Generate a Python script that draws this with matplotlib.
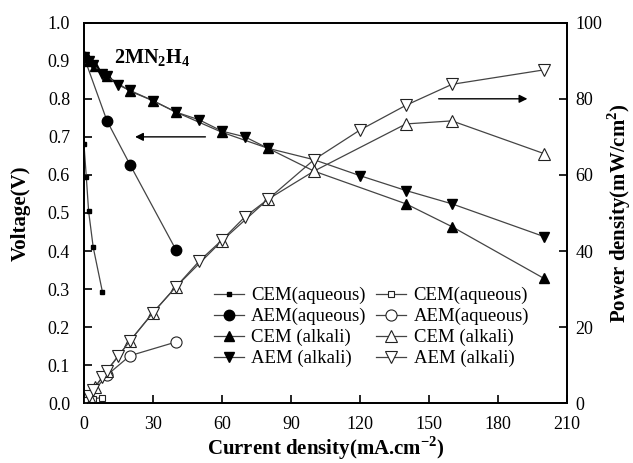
import numpy as np
import matplotlib
matplotlib.use("Agg")
import matplotlib.pyplot as plt

plt.rcParams['font.family'] = ['Liberation Serif', 'DejaVu Serif']
plt.rcParams['mathtext.fontset'] = 'custom'
plt.rcParams['mathtext.rm'] = 'Liberation Serif'
plt.rcParams['mathtext.bf'] = 'Liberation Serif:bold'

# current density (mA/cm2), voltage (V), power density (mW/cm2)
cem_aq_i = [0, 1, 2, 4, 8]
cem_aq_v = [0.68, 0.595, 0.505, 0.41, 0.293]
cem_aq_p = [0, 0.5, 0.9, 1.2, 1.5]

aem_aq_i = [0, 10, 20, 40]
aem_aq_v = [0.91, 0.742, 0.627, 0.403]
aem_aq_p = [0, 7.4, 12.5, 16.1]

cem_al_i = [0, 2, 5, 10, 20, 30, 40, 60, 80, 100, 140, 160, 200]
cem_al_v = [0.91, 0.90, 0.885, 0.86, 0.82, 0.795, 0.765, 0.712, 0.67, 0.61, 0.524, 0.464, 0.328]
cem_al_p = [0, 1.8, 4.4, 8.6, 16.4, 23.8, 30.6, 42.7, 53.6, 61.0, 73.4, 74.2, 65.6]

aem_al_i = [0, 2, 4, 8, 10, 15, 20, 30, 40, 50, 60, 70, 80, 100, 120, 140, 160, 200]
aem_al_v = [0.91, 0.90, 0.89, 0.865, 0.86, 0.836, 0.822, 0.795, 0.765, 0.745, 0.715, 0.70,
            0.67, 0.64, 0.598, 0.559, 0.524, 0.438]
aem_al_p = [0, 1.8, 3.6, 6.9, 8.6, 12.5, 16.4, 23.8, 30.6, 37.3, 42.9, 49.0, 53.6, 64.0,
            71.8, 78.3, 83.8, 87.6]

labels = ["CEM(aqueous)", "AEM(aqueous)", "CEM (alkali)", "AEM (alkali)"]

if __name__ == "__main__":
    fig = plt.figure(figsize=(6.33, 4.63), dpi=100)
    ax = fig.add_axes([0.1327, 0.129, 0.7630, 0.822])
    ax2 = ax.twinx()

    lc = '#444444'
    lw = 0.9
    series = [
        (cem_aq_i, cem_aq_v, cem_aq_p, 's', 3.5),
        (aem_aq_i, aem_aq_v, aem_aq_p, 'o', 7.5),
        (cem_al_i, cem_al_v, cem_al_p, '^', 7.5),
        (aem_al_i, aem_al_v, aem_al_p, 'v', 7.5),
    ]
    filled = []
    empty = []
    for (i, v, p, m, ms), lab in zip(series, labels):
        h1, = ax2.plot(i, np.array(v) * 100, color=lc, lw=lw, marker=m, ms=ms,
                       mfc='black', mec='black', label=lab)
        oms = 5 if m == 's' else 8
        h2, = ax2.plot(i, p, color=lc, lw=lw, marker=m, ms=oms,
                       mfc='white', mec='#222222', mew=0.8, label=lab)
        filled.append(h1)
        empty.append(h2)

    ax.set_xlim(0, 210)
    ax.set_ylim(0, 1.0)
    ax2.set_ylim(0, 100)
    ax.set_xticks(np.arange(0, 211, 30))
    ax.set_yticks(np.arange(0, 1.01, 0.1))
    ax.set_yticklabels(["%.1f" % t for t in np.arange(0, 1.01, 0.1)])
    ax2.set_yticks(np.arange(0, 101, 20))

    ax.tick_params(direction='in', length=6, width=1.2, labelsize=13, top=False)
    ax.tick_params(axis='x', pad=9)
    ax.tick_params(axis='y', pad=10)
    ax2.tick_params(direction='in', length=6, width=1.2, labelsize=13, pad=6)
    for a in (ax, ax2):
        for s in a.spines.values():
            s.set_linewidth(1.3)

    ax.set_xlabel("Current density(mA.cm$^{\\mathbf{-2}}$)", fontsize=15,
                  fontweight='bold', labelpad=1)
    ax.set_ylabel("Voltage(V)", fontsize=15, fontweight='bold', labelpad=12)
    ax2.set_ylabel("Power density(mW/cm$^{\\mathbf{2}}$)", fontsize=15,
                   fontweight='bold', labelpad=2)

    ax.text(0.062, 0.905, "2MN$_{\\mathbf{2}}$H$_{\\mathbf{4}}$", transform=ax.transAxes,
            fontsize=14.5, fontweight='bold', va='center')

    ax2.annotate("", xy=(21, 70), xytext=(54, 70),
                 arrowprops=dict(arrowstyle='-|>', color='black', lw=1.0,
                                 mutation_scale=12))
    ax2.annotate("", xy=(194, 80), xytext=(153, 80),
                 arrowprops=dict(arrowstyle='-|>', color='black', lw=1.0,
                                 mutation_scale=12))

    leg = ax2.legend(filled + empty, labels + labels, ncol=2, loc='center',
                     bbox_to_anchor=(0.595, 0.2), frameon=False, fontsize=13.5,
                     handlelength=1.6, handletextpad=0.4, columnspacing=0.5,
                     labelspacing=0.2, borderpad=0.2)

    plt.savefig("out.png", dpi=100)
